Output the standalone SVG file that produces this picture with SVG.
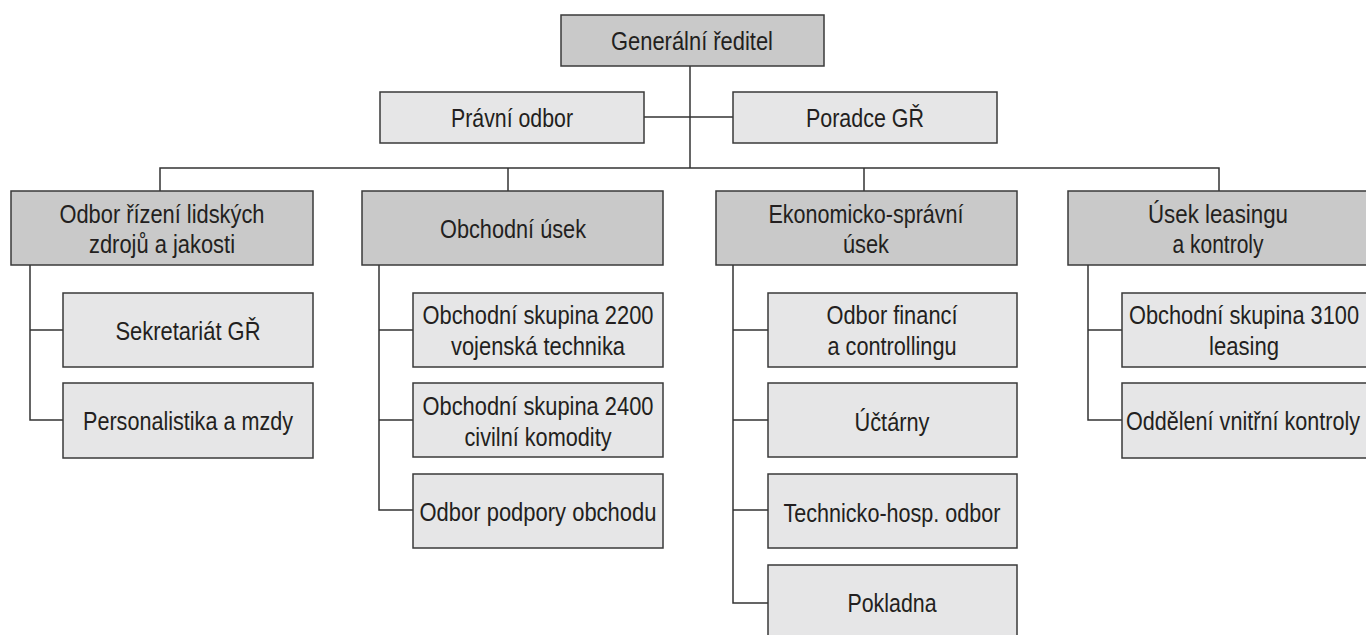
<svg xmlns="http://www.w3.org/2000/svg" width="1366" height="635" viewBox="0 0 1366 635">
<style>
.dk{fill:#c9c9c9;stroke:#3a3a3a;stroke-width:1.5}
.lt{fill:#e6e6e7;stroke:#3a3a3a;stroke-width:1.5}
.t{font-family:"Liberation Sans",Arial,sans-serif;font-size:26px;fill:#231f20;text-anchor:middle}
.c{fill:none;stroke:#333;stroke-width:1.5}
</style>
<rect width="1366" height="635" fill="#fff"/>
<g id="connectors" class="c">
<path d="M690 66V168"/>
<path d="M644 117H733"/>
<path d="M160 191V168H1219V191"/>
<path d="M508 168V191"/>
<path d="M864 168V191"/>
<path d="M30 265V420H63M30 330H63"/>
<path d="M379 265V510H413M379 330H413M379 420H413"/>
<path d="M733 265V603H768M733 330H768M733 420H768M733 510H768"/>
<path d="M1088 265V420H1122M1088 330H1122"/>
</g>
<g id="n-gr"><rect class="dk" x="561" y="15" width="263" height="51"/><text class="t" x="692" y="50" textLength="162" lengthAdjust="spacingAndGlyphs">Generální ředitel</text></g>
<g id="n-pravni"><rect class="lt" x="380" y="92" width="264" height="51"/><text class="t" x="512" y="127" textLength="122" lengthAdjust="spacingAndGlyphs">Právní odbor</text></g>
<g id="n-poradce"><rect class="lt" x="733" y="92" width="264" height="51"/><text class="t" x="865" y="127" textLength="118" lengthAdjust="spacingAndGlyphs">Poradce GŘ</text></g>

<g id="n-lidske"><rect class="dk" x="11" y="191" width="302" height="74"/><text class="t" x="162" y="223" textLength="205" lengthAdjust="spacingAndGlyphs">Odbor řízení lidských</text><text class="t" x="162" y="253" textLength="146" lengthAdjust="spacingAndGlyphs">zdrojů a jakosti</text></g>
<g id="n-sekretariat"><rect class="lt" x="63" y="293" width="250" height="74"/><text class="t" x="188" y="340" textLength="145" lengthAdjust="spacingAndGlyphs">Sekretariát GŘ</text></g>
<g id="n-personalistika"><rect class="lt" x="63" y="383" width="250" height="75"/><text class="t" x="188" y="430" textLength="210" lengthAdjust="spacingAndGlyphs">Personalistika a mzdy</text></g>

<g id="n-obchodni"><rect class="dk" x="362" y="191" width="301" height="74"/><text class="t" x="513" y="238" textLength="146" lengthAdjust="spacingAndGlyphs">Obchodní úsek</text></g>
<g id="n-os2200"><rect class="lt" x="413" y="293" width="250" height="74"/><text class="t" x="538" y="324" textLength="231" lengthAdjust="spacingAndGlyphs">Obchodní skupina 2200</text><text class="t" x="538" y="355" textLength="174" lengthAdjust="spacingAndGlyphs">vojenská technika</text></g>
<g id="n-os2400"><rect class="lt" x="413" y="383" width="250" height="74"/><text class="t" x="538" y="415" textLength="231" lengthAdjust="spacingAndGlyphs">Obchodní skupina 2400</text><text class="t" x="538" y="446" textLength="147" lengthAdjust="spacingAndGlyphs">civilní komodity</text></g>
<g id="n-podpora"><rect class="lt" x="413" y="474" width="250" height="74"/><text class="t" x="538" y="521" textLength="237" lengthAdjust="spacingAndGlyphs">Odbor podpory obchodu</text></g>

<g id="n-ekonomicky"><rect class="dk" x="716" y="191" width="301" height="74"/><text class="t" x="866" y="223" textLength="195" lengthAdjust="spacingAndGlyphs">Ekonomicko-správní</text><text class="t" x="866" y="253" textLength="46" lengthAdjust="spacingAndGlyphs">úsek</text></g>
<g id="n-financi"><rect class="lt" x="768" y="293" width="249" height="74"/><text class="t" x="892" y="324" textLength="131" lengthAdjust="spacingAndGlyphs">Odbor financí</text><text class="t" x="892" y="355" textLength="129" lengthAdjust="spacingAndGlyphs">a controllingu</text></g>
<g id="n-uctarny"><rect class="lt" x="768" y="383" width="249" height="74"/><text class="t" x="892" y="431" textLength="75" lengthAdjust="spacingAndGlyphs">Účtárny</text></g>
<g id="n-technicko"><rect class="lt" x="768" y="474" width="249" height="74"/><text class="t" x="892" y="522" textLength="217" lengthAdjust="spacingAndGlyphs">Technicko-hosp. odbor</text></g>
<g id="n-pokladna"><rect class="lt" x="768" y="565" width="249" height="74"/><text class="t" x="892" y="612" textLength="89" lengthAdjust="spacingAndGlyphs">Pokladna</text></g>

<g id="n-leasing"><rect class="dk" x="1068" y="191" width="302" height="74"/><text class="t" x="1218" y="223" textLength="140" lengthAdjust="spacingAndGlyphs">Úsek leasingu</text><text class="t" x="1218" y="253" textLength="91" lengthAdjust="spacingAndGlyphs">a kontroly</text></g>
<g id="n-os3100"><rect class="lt" x="1122" y="293" width="250" height="74"/><text class="t" x="1244" y="324" textLength="230" lengthAdjust="spacingAndGlyphs">Obchodní skupina 3100</text><text class="t" x="1244" y="355" textLength="70" lengthAdjust="spacingAndGlyphs">leasing</text></g>
<g id="n-kontroly"><rect class="lt" x="1122" y="383" width="250" height="75"/><text class="t" x="1243" y="430" textLength="234" lengthAdjust="spacingAndGlyphs">Oddělení vnitřní kontroly</text></g>
</svg>
